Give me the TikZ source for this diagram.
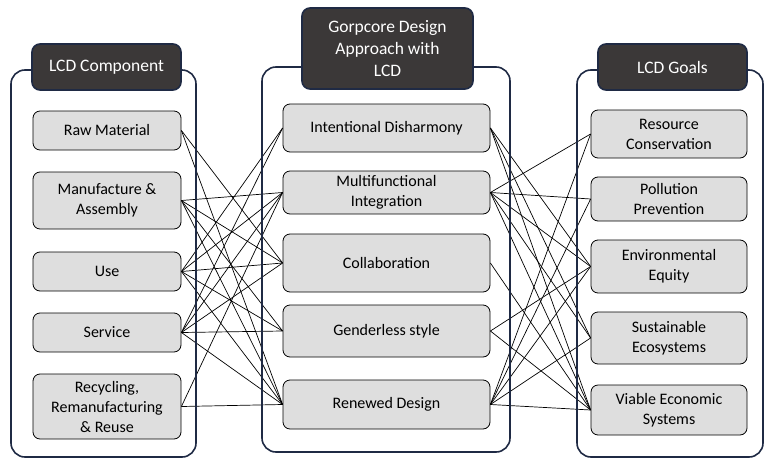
\documentclass[tikz,border=0pt]{standalone}
\usepackage{fontspec}
\setmainfont{Carlito}

\definecolor{navy}{HTML}{1F2A44}
\definecolor{headgray}{HTML}{3B3838}
\definecolor{boxgray}{HTML}{DEDEDE}

\tikzset{
  panel/.style={draw=navy, line width=1.6pt, rounded corners=14pt},
  head/.style={draw=navy, line width=1.6pt, fill=headgray, rounded corners=8pt,
    text=white, align=center, inner sep=0pt, font=\fontsize{17.5}{22}\selectfont},
  item/.style={draw=black, line width=0.8pt, fill=boxgray, rounded corners=7pt,
    align=center, inner sep=0pt, font=\fontsize{16}{20}\selectfont},
  link/.style={line width=0.7pt}
}

\begin{document}
\begin{tikzpicture}[x=1pt,y=-1pt]
\useasboundingbox (0,0) rectangle (768,463);

% LCD components
\node[item, minimum width=148pt, minimum height=39pt] (raw)   at (107,130.5) {Raw Material};
\node[item, minimum width=148pt, minimum height=57pt] (manu)  at (107,200.5) {Manufacture \&\\Assembly};
\node[item, minimum width=148pt, minimum height=39pt] (use)   at (107,271.5) {Use};
\node[item, minimum width=148pt, minimum height=39pt] (serv)  at (107,332.5) {Service};
\node[item, minimum width=148pt, minimum height=65pt] (recyc) at (107,406.5) {Recycling,\\Remanufacturing\\\& Reuse};

% Gorpcore design approach
\node[item, minimum width=207pt, minimum height=48pt] (dish)   at (386.5,128)   {Intentional Disharmony};
\node[item, minimum width=207pt, minimum height=43pt] (multi)  at (386.5,192.5) {Multifunctional\\Integration};
\node[item, minimum width=207pt, minimum height=58pt] (collab) at (386.5,263)   {Collaboration};
\node[item, minimum width=207pt, minimum height=52pt] (gender) at (386.5,331)   {Genderless style};
\node[item, minimum width=207pt, minimum height=49pt] (renew)  at (386.5,404.5) {Renewed Design};

% LCD goals
\node[item, minimum width=156pt, minimum height=48pt] (rc)  at (669,134)   {Resource\\Conservation};
\node[item, minimum width=156pt, minimum height=44pt] (pp)  at (669,199)   {Pollution\\Prevention};
\node[item, minimum width=156pt, minimum height=53pt] (ee)  at (669,266.5) {Environmental\\Equity};
\node[item, minimum width=156pt, minimum height=52pt] (se)  at (669,338)   {Sustainable\\Ecosystems};
\node[item, minimum width=156pt, minimum height=50pt] (ves) at (669,410)   {Viable Economic\\Systems};

% links
\foreach \a/\b in {raw/collab, raw/renew,
                   manu/multi, manu/collab, manu/gender, manu/renew,
                   use/dish, use/multi, use/collab, use/gender, use/renew,
                   serv/dish, serv/multi, serv/collab, serv/gender, serv/renew,
                   recyc/multi, recyc/renew}
  \draw[link] (\a.east) -- (\b.west);
\foreach \a/\b in {dish/ee, dish/se, dish/ves,
                   multi/rc, multi/pp, multi/ee, multi/se, multi/ves,
                   collab/ves,
                   gender/ee, gender/ves,
                   renew/rc, renew/pp, renew/ee, renew/se, renew/ves}
  \draw[link] (\a.east) -- (\b.west);

% panels
\draw[panel] (11,70) rectangle (196,457);
\draw[panel] (262,67) rectangle (510,452);
\draw[panel] (577,70) rectangle (763,457);

\node[head, minimum width=149pt, minimum height=46pt] (lhead) at (106.5,67)  {LCD Component};
\node[head, minimum width=171pt, minimum height=81pt] (mhead) at (387.5,48.5) {Gorpcore Design\\Approach with\\LCD};
\node[head, minimum width=149pt, minimum height=46pt] (rhead) at (672.5,67)  {LCD Goals};
\end{tikzpicture}
\end{document}
